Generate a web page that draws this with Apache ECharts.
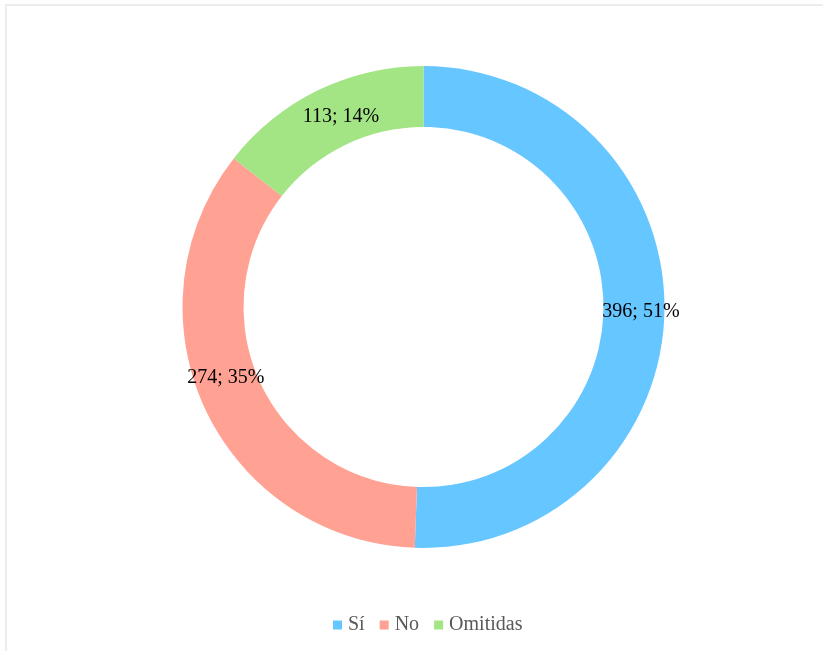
<!DOCTYPE html>
<html>
<head>
<meta charset="utf-8">
<script src="https://cdn.jsdelivr.net/npm/echarts@6/dist/echarts.min.js"></script>
<style>
  html, body { margin: 0; padding: 0; background: #ffffff; }
  #chart { width: 823px; height: 651px; }
</style>
</head>
<body>
<div id="chart"></div>
<script>
// Answer categories and counts
const categories = ['Sí', 'No', 'Omitidas'];
const counts = [396, 274, 113];
const colors = ['#66c6ff', '#ffa193', '#a3e485'];
// small nudges so the labels sit where the report places them
const labelNudges = [[4, 1], [-4, -19], [11, 2]];

const total = counts.reduce((a, b) => a + b, 0);
const pieData = categories.map((name, i) => ({
  name: name,
  value: counts[i],
  itemStyle: { color: colors[i] },
  label: { offset: labelNudges[i] }
}));

const serif = '"Liberation Serif", "Times New Roman", serif';

const chart = echarts.init(document.getElementById('chart'), null, { renderer: 'canvas' });
chart.setOption({
  backgroundColor: '#ffffff',
  animation: false,
  graphic: [{
    type: 'rect',
    shape: { x: 6, y: 5, width: 830, height: 660 },
    style: { fill: 'none', stroke: '#ececec', lineWidth: 2 },
    silent: true,
    z: -1
  }],
  legend: {
    data: categories,
    bottom: 11,
    left: 328,
    itemWidth: 9,
    itemHeight: 9,
    itemGap: 15,
    icon: 'rect',
    textStyle: {
      fontFamily: serif,
      fontSize: 20,
      color: '#595959',
      padding: [0, 0, 0, 1]
    }
  },
  series: [{
    type: 'pie',
    center: [423.5, 307],
    radius: [180, 241],
    startAngle: 90,
    clockwise: true,
    avoidLabelOverlap: false,
    label: {
      show: true,
      position: 'inside',
      fontFamily: serif,
      fontSize: 20,
      color: '#000000',
      formatter: p => p.value + '; ' + Math.round(p.value / total * 100) + '%'
    },
    labelLine: { show: false },
    itemStyle: { borderWidth: 0 },
    emphasis: { disabled: true },
    data: pieData
  }]
});
</script>
</body>
</html>
